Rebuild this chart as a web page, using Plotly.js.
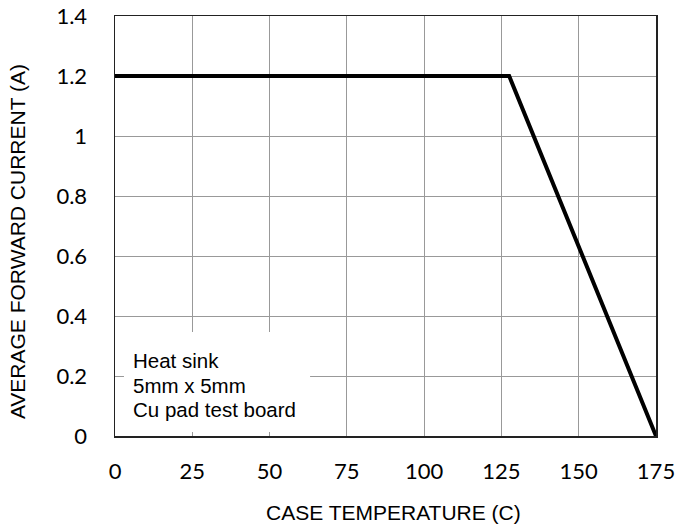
<!DOCTYPE html>
<html>
<head>
<meta charset="utf-8">
<script src="https://cdn.plot.ly/plotly-3.0.1.min.js"></script>
<style>html,body{margin:0;padding:0;background:#fff;}#chart{width:678px;height:529px;}</style>
</head>
<body>
<div id="chart"></div>
<script>
const temperature = [0, 127.5, 175];
const current = [1.2, 1.2, 0];
const xTicks = [0, 25, 50, 75, 100, 125, 150, 175];
const yTicks = [0, 0.2, 0.4, 0.6, 0.8, 1, 1.2, 1.4];
const noteLines = ["Heat sink", "5mm x 5mm", "Cu pad test board"];
const xTitle = 'CASE TEMPERATURE (C)';
const yTitle = 'AVERAGE FORWARD CURRENT (A)';

const trace = {
  x: temperature, y: current, mode: 'lines', type: 'scatter',
  line: {color: '#000', width: 4}, hoverinfo: 'skip'
};

const arial = '"Liberation Sans", Arial, sans-serif';
const tickFont = {family: 'Lato, "Open Sans", sans-serif', size: 22, color: '#000'};

const layout = {
  width: 678, height: 529,
  margin: {l: 115, r: 22, t: 16, b: 93},
  paper_bgcolor: '#fff', plot_bgcolor: '#fff',
  showlegend: false,
  xaxis: {
    range: [0, 175], tickvals: xTicks, ticktext: xTicks.map(String),
    showgrid: true, gridcolor: '#999', gridwidth: 1,
    zeroline: false, showline: true, linecolor: '#222', linewidth: 1.5, mirror: true,
    ticks: 'outside', ticklen: 15, tickcolor: 'rgba(0,0,0,0)',
    tickfont: tickFont
  },
  yaxis: {
    range: [0, 1.4], tickvals: yTicks, ticktext: yTicks.map(String),
    showgrid: true, gridcolor: '#999', gridwidth: 1,
    zeroline: false, showline: true, linecolor: '#222', linewidth: 1.5, mirror: true,
    ticks: 'outside', ticklen: 22, tickcolor: 'rgba(0,0,0,0)',
    tickfont: tickFont
  },
  shapes: [{
    type: 'rect', xref: 'x', yref: 'y', layer: 'above',
    x0: 2.9, x1: 63.1, y0: 0.0133, y1: 0.347,
    fillcolor: '#fff', line: {width: 0}
  }],
  annotations: noteLines.map((t, i) => ({
    text: t, xref: 'x', yref: 'y', x: 5.3, y: 0.253 - i * 0.083,
    xanchor: 'left', yanchor: 'middle', showarrow: false,
    font: {family: arial, size: 20.5, color: '#000'}
  })).concat([
    {text: xTitle, xref: 'paper', yref: 'paper', x: 0.2754, y: -0.181,
     xanchor: 'left', yanchor: 'middle', showarrow: false,
     font: {family: arial, size: 21, color: '#000'}},
    {text: yTitle, xref: 'paper', yref: 'paper', x: -0.179, y: 0.462, textangle: -90,
     xanchor: 'center', yanchor: 'middle', showarrow: false,
     font: {family: arial, size: 21, color: '#000'}}
  ])
};

Plotly.newPlot('chart', [trace], layout, {displayModeBar: false, staticPlot: true});
</script>
</body>
</html>
